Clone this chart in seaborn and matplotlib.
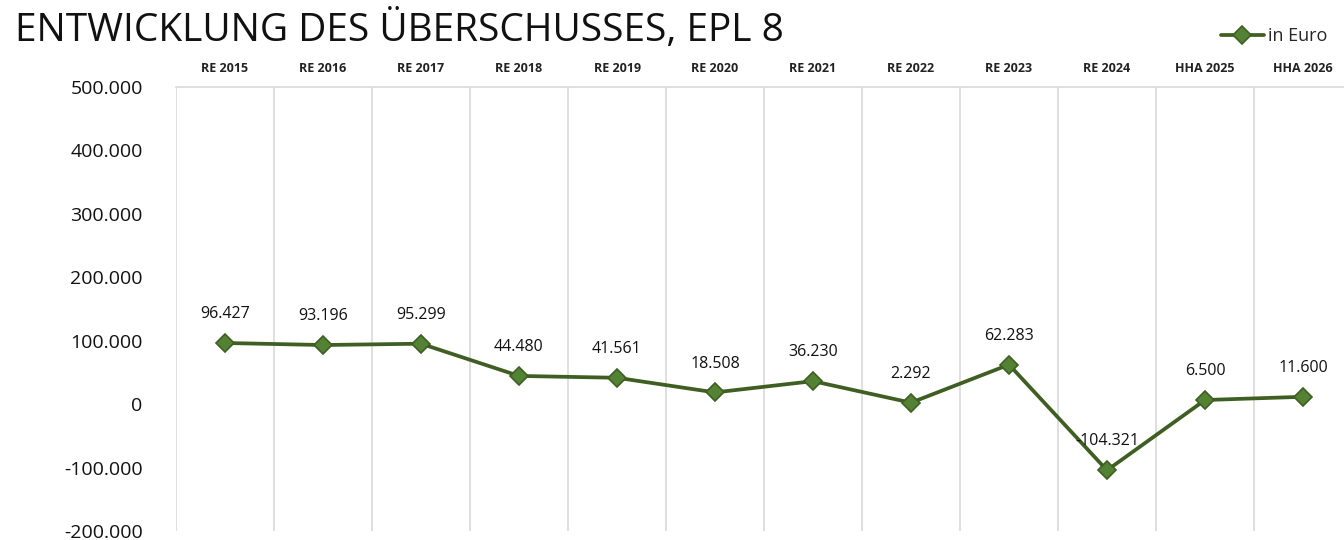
import matplotlib
matplotlib.use("Agg")
import matplotlib.pyplot as plt
import seaborn as sns
import pandas as pd

categories = ["RE 2015", "RE 2016", "RE 2017", "RE 2018", "RE 2019", "RE 2020",
              "RE 2021", "RE 2022", "RE 2023", "RE 2024", "HHA 2025", "HHA 2026"]
values = [96427, 93196, 95299, 44480, 41561, 18508, 36230, 2292, 62283, -104321, 6500, 11600]
y_ticks = [-200000, -100000, 0, 100000, 200000, 300000, 400000, 500000]

sns.set_style("white")
plt.rcParams["font.family"] = ["Open Sans", "DejaVu Sans"]

def de_fmt(v):
    return f"{v:,}".replace(",", ".")

df = pd.DataFrame({"pos": range(len(categories)), "value": values, "cat": categories})

fig = plt.figure(figsize=(13.44, 5.4), dpi=100)
ax = fig.add_axes([176 / 1344, 1 - 531 / 540, (1352 - 176) / 1344, (531 - 87) / 540])

sns.lineplot(data=df, x="pos", y="value", ax=ax, color="#3f5f22", linewidth=2.7,
             marker="D", markersize=9, markerfacecolor="#548235",
             markeredgecolor="#3f5f22", markeredgewidth=1.2, label="in Euro", legend=False)

ax.set_xlim(-0.5, len(categories) - 0.5)
ax.set_ylim(y_ticks[0], y_ticks[-1])
ax.set_yticks(y_ticks)
ax.set_yticklabels([de_fmt(t) for t in y_ticks], fontsize=14, color="#111111")
ax.tick_params(axis="y", length=0, pad=24)

# vertical gridlines at category boundaries
ax.set_xticks([i - 0.5 for i in range(len(categories))])
ax.set_xticklabels([])
ax.tick_params(axis="x", length=0)
ax.grid(axis="x", color="#d9d9d9", linewidth=1.2)
ax.set_xlabel("")
ax.set_ylabel("")

for s in ["left", "right", "bottom"]:
    ax.spines[s].set_visible(False)
ax.spines["top"].set_color("#d9d9d9")
ax.spines["top"].set_linewidth(1.2)

# category labels along the top
for i, c in enumerate(categories):
    ax.text(i, 1.042, c, transform=ax.get_xaxis_transform(), ha="center", va="center",
            fontsize=9, fontweight="bold", color="#222222")

# data labels
for i, v in enumerate(values):
    ax.annotate(de_fmt(v), (i, v), xytext=(0, 15), textcoords="offset points",
                ha="center", va="bottom", fontsize=11.5, color="#111111")

fig.text(15 / 1344, 1 - 30 / 540, "ENTWICKLUNG DES ÜBERSCHUSSES, EPL 8", ha="left", va="center",
         fontsize=28, fontweight="normal", color="#111111")

leg = ax.legend(loc="center right", bbox_to_anchor=(1327 / 1344, 1 - 36 / 540),
                bbox_transform=fig.transFigure, frameon=False, fontsize=13,
                handlelength=2.4, handletextpad=0.2, borderpad=0, borderaxespad=0)

fig.savefig("out.png", dpi=100)
